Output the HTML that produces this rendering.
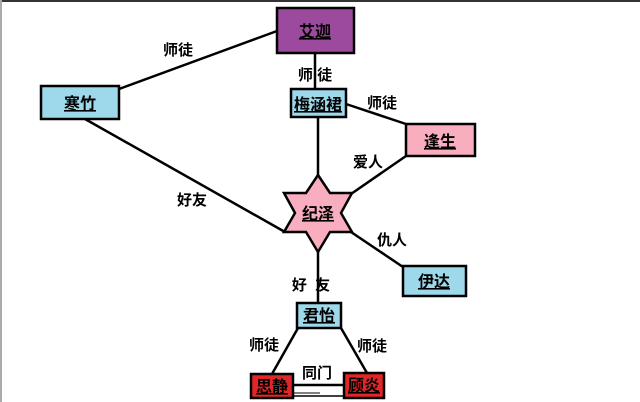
<!DOCTYPE html>
<html><head><meta charset="utf-8"><style>
html,body{margin:0;padding:0;background:#fff;}
svg{display:block;}
text{font-family:"Liberation Sans","Noto Sans CJK SC",sans-serif;font-weight:bold;}
</style></head><body>
<svg width="640" height="402" viewBox="0 0 640 402" xmlns="http://www.w3.org/2000/svg">
<rect x="0" y="0" width="640" height="402" fill="#fff"/>
<rect x="0" y="0" width="640" height="2" fill="#333"/>
<rect x="0" y="0" width="2" height="402" fill="#aaa"/>
<g stroke="#000" stroke-width="2.5" fill="none">
<line x1="119" y1="89" x2="277" y2="31"/>
<line x1="85" y1="119" x2="285" y2="232"/>
<line x1="315" y1="53" x2="315" y2="89"/>
<line x1="318" y1="117" x2="318" y2="176"/>
<line x1="346" y1="104" x2="406" y2="124"/>
<line x1="406" y1="156" x2="351" y2="194"/>
<line x1="351" y1="232" x2="403" y2="267"/>
<line x1="318" y1="252" x2="318" y2="303"/>
<line x1="298" y1="328" x2="272" y2="374"/>
<line x1="341" y1="328" x2="367" y2="373"/>
<line x1="293" y1="385" x2="344" y2="385"/>
<line x1="293" y1="396" x2="344" y2="396" stroke-width="1.5"/>
<line x1="293" y1="393" x2="320" y2="393" stroke-width="1"/>
</g>
<g stroke="#000" stroke-width="2.5">
<rect x="277" y="8" width="77" height="45" fill="#9b4a9e"/>
<rect x="291" y="89" width="55" height="28" fill="#9dd9ea"/>
<rect x="406" y="124" width="69" height="32" fill="#f9aec0"/>
<rect x="41" y="86" width="78" height="33" fill="#9dd9ea"/>
<rect x="403" y="266" width="63" height="30" fill="#9dd9ea"/>
<rect x="297" y="303" width="44" height="25" fill="#9dd9ea"/>
<rect x="251" y="374" width="42" height="24" fill="#e02626"/>
<rect x="344" y="373" width="40" height="25" fill="#e02626"/>
<polygon points="318,175 330,193 352,193 341,213 352,232 330,232 318,252 306,232 284,232 295,213 284,193 306,193" fill="#f9aec0"/>
</g>
<g font-size="16" text-anchor="middle" text-decoration="underline" fill="#000">
<text x="315" y="37">艾迦</text>
<text x="318" y="110">梅涵裙</text>
<text x="440" y="147">逢生</text>
<text x="80" y="109">寒竹</text>
<text x="318" y="219">纪泽</text>
<text x="434" y="287">伊达</text>
<text x="319" y="321">君怡</text>
<text x="272" y="392">思静</text>
<text x="364" y="391">顾炎</text>
</g>
<g font-size="15" text-anchor="middle" fill="#000">
<text x="178" y="55">师徒</text>
<text x="315" y="80">师 徒</text>
<text x="382" y="108">师徒</text>
<text x="368" y="167">爱人</text>
<text x="192" y="205">好友</text>
<text x="392" y="245">仇人</text>
<text x="311" y="290" xml:space="preserve">好  友</text>
<text x="264" y="350">师徒</text>
<text x="372" y="351">师徒</text>
<text x="317" y="378">同门</text>
</g>
</svg>
</body></html>
